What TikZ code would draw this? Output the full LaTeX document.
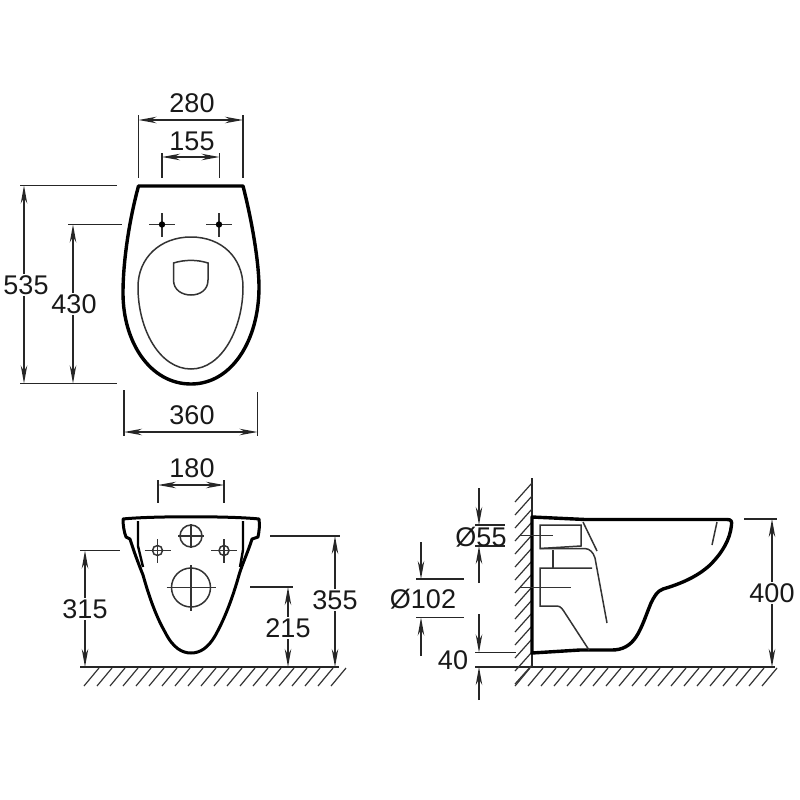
\documentclass[tikz,border=0pt]{standalone}
\usepackage{fontspec}
\setmainfont{Liberation Sans}
\usetikzlibrary{arrows.meta}
\tikzset{
	dimline/.style={line width=1.4pt,color=black!85},
	dimarrow/.style={dimline,{Stealth[length=18pt,width=6.5pt]}-{Stealth[length=18pt,width=6.5pt]}},
	dimtip/.style={dimline,-{Stealth[length=18pt,width=6.5pt]}},
	dimlabel/.style={fill=white,inner sep=1pt,font=\fontsize{27}{27}\selectfont,text=black!90},
	outline/.style={line width=3.4pt,line join=round,color=black},
	inner/.style={line width=1.5pt,color=black!80},
	hatch/.style={line width=1.2pt,color=black!80}
}
\begin{document}
\begin{tikzpicture}[x=1pt,y=-1pt]
		\useasboundingbox (0,0) rectangle (800,800);
		% top view
		\draw[outline] (138.5,186) .. controls (128,225) and (123,265) .. (123,293)
		.. controls (123,342) and (150,384) .. (191,384)
		.. controls (232,384) and (259,340) .. (259,287)
		.. controls (259,265) and (253,225) .. (243,186) -- cycle;
		\draw[inner] (191,237) .. controls (160,237) and (138,258) .. (138,287)
		.. controls (138,330) and (160,369) .. (191,369)
		.. controls (222,369) and (243,328) .. (243,287)
		.. controls (243,258) and (222,237) .. (191,237) -- cycle;
		\draw[inner] (173.5,263) .. controls (185,259.5) and (197,259.5) .. (208,263) -- (208,280)
		.. controls (208,290) and (200,295) .. (191,295)
		.. controls (182,295) and (173.5,290) .. (173.5,280) -- cycle;
		\foreach \x in {162,219}{
			\draw[inner] (\x-13,224.5) -- (\x+13,224.5);
			\draw[inner] (\x,213) -- (\x,237);
			\fill (\x,224.5) circle[radius=3.2pt];
		}
		\draw[dimline] (138.5,115) -- (138.5,178);
		\draw[dimline] (243,115) -- (243,178);
		\draw[dimarrow] (138.5,120) -- (243,120);
		\draw[dimline] (162,153) -- (162,178);
		\draw[dimline] (219.5,153) -- (219.5,178);
		\draw[dimarrow] (162,157) -- (219.5,157);
		\draw[dimline] (20,185.5) -- (117,185.5);
		\draw[dimline] (20,383.5) -- (117,383.5);
		\draw[dimarrow] (24,185.5) -- (24,383.5);
		\draw[dimline] (68,224.5) -- (122,224.5);
		\draw[dimarrow] (73,224.5) -- (73,383.5);
		\draw[dimline] (124,390) -- (124,436);
		\draw[dimline] (257.5,392) -- (257.5,436);
		\draw[dimarrow] (124,432) -- (257.5,432);
		\node[dimlabel] (w280) at (192,103) {280};
		\node[dimlabel] (w155) at (192,141) {155};
		\node[dimlabel] (h535) at (26,285) {535};
		\node[dimlabel] (h430) at (74,304) {430};
		\node[dimlabel] (w360) at (192,415) {360};
		% front view
		\draw[outline,line width=3pt] (123,519) .. controls (150,516) and (232,516) .. (259,519)
		.. controls (260,525) and (259,532) .. (258,537) -- (252,539)
		.. controls (248,552) and (243,562) .. (239,575)
		.. controls (232,600) and (224,620) .. (215,636)
		.. controls (208,648) and (200,653) .. (191,653)
		.. controls (182,653) and (173,648) .. (165,632)
		.. controls (157,618) and (150,600) .. (143,575)
		.. controls (139,565) and (134,552) .. (130,539) -- (126,537)
		.. controls (124,532) and (123,525) .. (123,519) -- cycle;
		\draw[outline,line width=2.4pt] (138,521) -- (138,546) -- (143,567);
		\draw[outline,line width=2.4pt] (243,521) -- (243,550) -- (240,567);
		\foreach \x in {157.5,224}{
			\draw[inner] (\x,550.5) circle[radius=5pt];
			\draw[inner] (\x-13,550.5) -- (\x+13,550.5);
			\draw[inner] (\x,539) -- (\x,563);
		}
		\draw[inner] (191,536) circle[radius=11pt];
		\draw[inner] (178,536) -- (204,536);
		\draw[inner] (191,524) -- (191,548);
		\draw[inner] (191,587.5) circle[radius=19.5pt];
		\draw[inner] (166.5,587.5) -- (215.5,587.5);
		\draw[inner] (191,565) -- (191,611);
		\draw[dimline] (80,667) -- (339,667);
		\foreach \x in {0,...,19}{
			\draw[hatch] (84+13*\x,686) -- (99+13*\x,668);
		}
		\draw[dimline] (158,480) -- (158,503);
		\draw[dimline] (224,480) -- (224,503);
		\draw[dimarrow] (158,485) -- (224,485);
		\draw[dimline] (80,550.5) -- (120,550.5);
		\draw[dimarrow] (85,550.5) -- (85,667);
		\draw[dimline] (270,536) -- (340,536);
		\draw[dimarrow] (335,536) -- (335,667);
		\draw[dimline] (250,587) -- (293,587);
		\draw[dimarrow] (288,587) -- (288,667);
		\node[dimlabel] (w180) at (192,468) {180};
		\node[dimlabel] (h315) at (85,609) {315};
		\node[dimlabel] (h355) at (335,600) {355};
		\node[dimlabel] (h215) at (288,628) {215};
		% side view
		\draw[dimline] (532,478) -- (532,667);
		\draw[dimline] (515,667) -- (775,667);
		\foreach \y in {0,...,14}{
			\draw[hatch] (515,502+13*\y) -- (532,483+13*\y);
		}
		\foreach \x in {0,...,19}{
			\draw[hatch] (515+13*\x,686) -- (530+13*\x,668);
		}
		\draw[outline] (532,517) -- (585,519.5) -- (727,519.5)
		.. controls (731,519.5) and (732,521) .. (731.5,525)
		.. controls (730,540) and (722,553) .. (710,565)
		.. controls (697,577) and (680,584) .. (663,589)
		.. controls (657,591) and (654,597) .. (651,603)
		.. controls (646,615) and (642,628) .. (636,637)
		.. controls (630,646) and (622,650) .. (612,650)
		-- (580,650) -- (532,653) -- cycle;
		\draw[inner] (540,525) -- (581,525) -- (581,546) -- (540,548.5) -- cycle;
		\draw[inner] (583,522) -- (597,551);
		\draw[inner] (540,548.5) -- (585,548.5) .. controls (590,549) and (593,552) .. (595,558)
		-- (607,623);
		\draw[inner] (553,550) -- (553,568);
		\draw[inner] (592,568) -- (540,568) -- (540,606) -- (557,606)
		.. controls (561,606) and (563,610) .. (565,613) -- (589,650);
		\draw[inner] (717,522) -- (712,545);
		\draw[inner] (520,535.5) -- (553,535.5);
		\draw[inner] (520,587.5) -- (571,587.5);
		\draw[dimtip] (479,488) -- (479,525);
		\draw[dimtip] (479,583) -- (479,546);
		\draw[dimline] (475,525) -- (505,525);
		\draw[dimline] (475,546) -- (505,546);
		\draw[dimline] (416,579) -- (464,579);
		\draw[dimline] (416,617.5) -- (464,617.5);
		\draw[dimtip] (421,542) -- (421,579);
		\draw[dimtip] (421,656) -- (421,617.5);
		\draw[dimline] (475,652.5) -- (516,652.5);
		\draw[dimline] (475,667) -- (515,667);
		\draw[dimtip] (479,614) -- (479,652.5);
		\draw[dimtip] (479,700) -- (479,667);
		\draw[dimline] (744,519) -- (777,519);
		\draw[dimarrow] (772,519) -- (772,667);
		\node[dimlabel,fill=none] (d55) at (481,537) {Ø55};
		\node[dimlabel,fill=none] (d102) at (423,599) {Ø102};
		\node[dimlabel,fill=none] (h40) at (453,660) {40};
		\node[dimlabel] (h400) at (772,593) {400};
\end{tikzpicture}
\end{document}
